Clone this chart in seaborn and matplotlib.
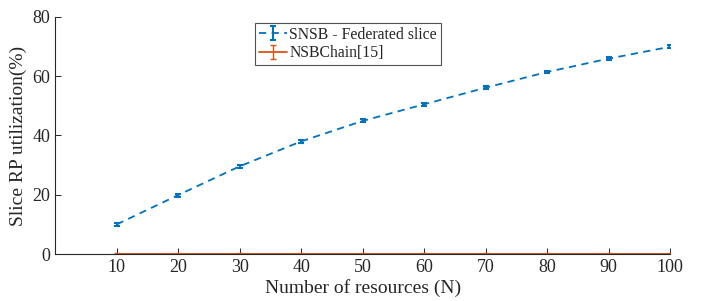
import matplotlib
matplotlib.use("Agg")
import matplotlib.pyplot as plt
from matplotlib.legend_handler import HandlerErrorbar
import pandas as pd
import numpy as np
import seaborn as sns

resources = [10, 20, 30, 40, 50, 60, 70, 80, 90, 100]
snsb_util = [10.0, 19.9, 29.6, 38.0, 44.9, 50.5, 56.1, 61.4, 65.9, 69.9]
snsb_err = [0.5, 0.5, 0.5, 0.5, 0.5, 0.5, 0.5, 0.5, 0.5, 0.5]
nsbchain_util = [0, 0, 0, 0, 0, 0, 0, 0, 0, 0]
nsbchain_err = [0.3, 0.3, 0.3, 0.3, 0.3, 0.3, 0.3, 0.3, 0.3, 0.3]

sns.set_theme(style="ticks")
plt.rcParams['font.family'] = ['Liberation Serif', 'DejaVu Serif']

blue = '#0072BD'
orange = '#D95319'

df = pd.DataFrame({'N': resources, 'snsb': snsb_util, 'nsb': nsbchain_util})

fig = plt.figure(figsize=(7.09, 3.01), dpi=100)
ax = fig.add_axes([0.078, 0.156, 0.867, 0.788])

h1 = ax.errorbar(df['N'], df['snsb'], yerr=snsb_err, color=blue, ls='--', lw=1.3,
                 capsize=2, elinewidth=1.5, capthick=1.5, dashes=(4, 3),
                 label='SNSB - Federated slice')
h2 = ax.errorbar(df['N'], df['nsb'], yerr=nsbchain_err, color=orange, ls='-', lw=1.3,
                 capsize=2, elinewidth=1.0, capthick=1.0, label='NSBChain[15]')
sns.lineplot(data=df, x='N', y='nsb', ax=ax, color=orange, lw=1.3, legend=False)

ax.set_xlim(0, 100)
ax.set_ylim(0, 80)
ax.set_xticks(resources)
ax.set_yticks([0, 20, 40, 60, 80])
ax.tick_params(direction='in', length=4, width=0.7, labelsize=13, colors='#262626')
for s in ['top', 'right']:
    ax.spines[s].set_visible(False)
for s in ['left', 'bottom']:
    ax.spines[s].set_linewidth(0.8)
    ax.spines[s].set_color('#262626')

ax.set_xlabel('Number of resources (N)', fontsize=14, labelpad=2)
ax.set_ylabel('Slice RP utilization(%)', fontsize=14, labelpad=4)

leg = ax.legend(handles=[h1, h2], loc='upper center', bbox_to_anchor=(0.4756, 0.975),
                fontsize=11.3, frameon=True, fancybox=False, edgecolor='#262626',
                handlelength=1.8, handletextpad=0.15, borderpad=0.25, labelspacing=0.15,
                borderaxespad=0.0,
                handler_map={type(h1): HandlerErrorbar(xerr_size=0.3, yerr_size=0.45)})
leg.get_frame().set_linewidth(0.8)

fig.savefig('out.png', dpi=100)
